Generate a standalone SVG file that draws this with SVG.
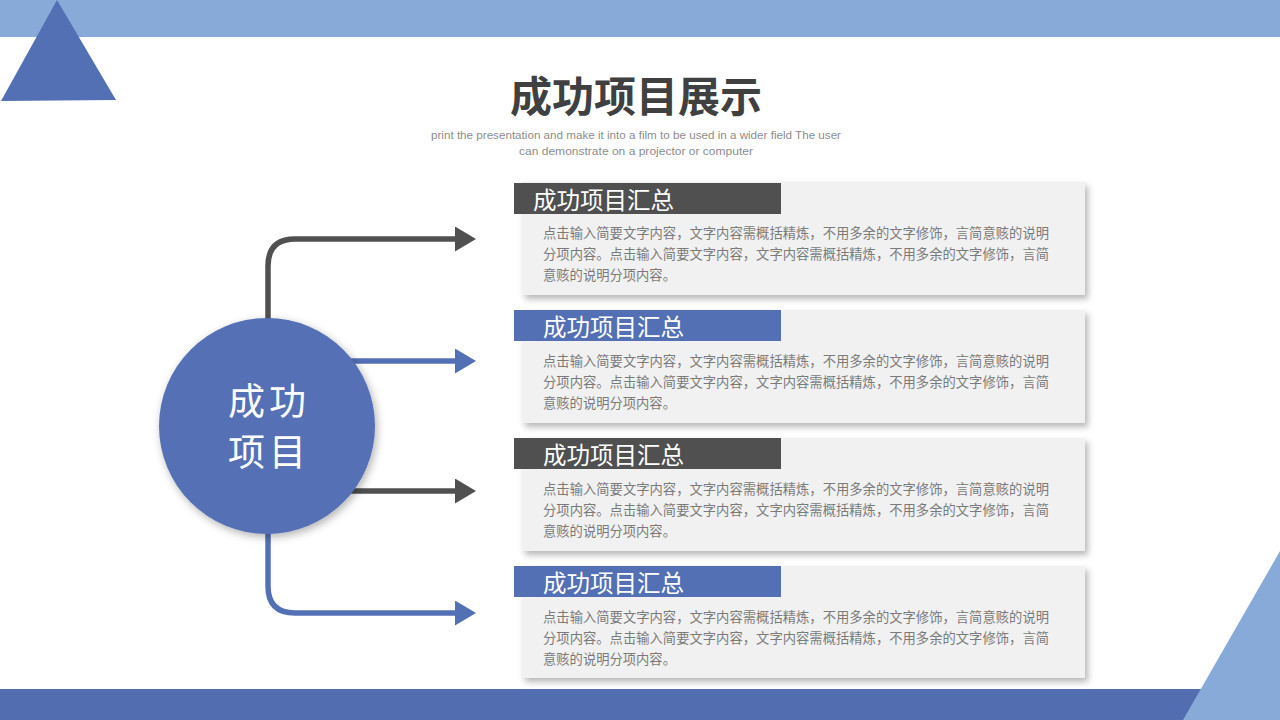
<svg xmlns="http://www.w3.org/2000/svg" width="1280" height="720" viewBox="0 0 1280 720">
  <defs>
    <filter id="sh" x="-10%" y="-20%" width="125%" height="150%">
      <feDropShadow dx="3" dy="4" stdDeviation="3" flood-color="#000" flood-opacity="0.28"/>
    </filter>
    <filter id="csh" x="-20%" y="-20%" width="140%" height="140%">
      <feDropShadow dx="2" dy="3" stdDeviation="4" flood-color="#000" flood-opacity="0.3"/>
    </filter>
    <marker id="ad" markerWidth="21" markerHeight="25" refX="2" refY="12.5" orient="auto" markerUnits="userSpaceOnUse" viewBox="0 0 21 25">
      <path d="M0,0 L21,12.5 L0,25 Z" fill="#505050"/>
    </marker>
    <marker id="ab" markerWidth="21" markerHeight="25" refX="2" refY="12.5" orient="auto" markerUnits="userSpaceOnUse" viewBox="0 0 21 25">
      <path d="M0,0 L21,12.5 L0,25 Z" fill="#5470B5"/>
    </marker>
    <style>
      .cjk{font-family:"Noto Sans CJK SC","Noto Sans",sans-serif}
      .card{fill:#F1F1F1}
      .hd{fill:#fff;font-size:23.5px}
      .body{fill:#7a7a7a;font-size:13.3px}
      .dark{stroke:#505050}
      .blue{stroke:#5470B5}
      .ln{fill:none;stroke-width:5.5}
      .sub{font-family:"Liberation Sans",sans-serif;font-size:10.5px;fill:#8c8c8c}
    </style>
  </defs>

  <!-- background decorations -->
  <rect x="0" y="0" width="1280" height="37" fill="#88AAD8"/>
  <polygon points="57,0 116,100 1,101" fill="#5470B5"/>
  <rect x="0" y="689" width="1210" height="31" fill="#526DB0"/>
  <polygon points="1280,551 1280,720 1183,720" fill="#88AAD8"/>

  <!-- title -->
  <g id="title">
    <text x="636" y="112" text-anchor="middle" class="cjk" font-size="42" font-weight="bold" fill="#404040">成功项目展示</text>
    <text x="431" y="139" class="sub" textLength="410" lengthAdjust="spacingAndGlyphs">print the presentation and make it into a film to be used in a wider field The user</text>
    <text x="519" y="155" class="sub" textLength="234" lengthAdjust="spacingAndGlyphs">can demonstrate on a projector or computer</text>
  </g>

  <!-- connectors -->
  <g id="connectors">
    <path class="ln dark" d="M268,322 V266 Q268,239 295,239 H457" marker-end="url(#ad)"/>
    <path class="ln blue" d="M350,361 H457" marker-end="url(#ab)"/>
    <path class="ln dark" d="M350,491 H457" marker-end="url(#ad)"/>
    <path class="ln blue" d="M268,530 V586 Q268,613 295,613 H457" marker-end="url(#ab)"/>
  </g>

  <!-- central node -->
  <g id="center">
    <circle cx="267" cy="426" r="108" fill="#5470B5" filter="url(#csh)"/>
    <text x="269" y="415" text-anchor="middle" class="cjk" font-size="37" letter-spacing="4" fill="#fff">成功</text>
    <text x="269" y="466" text-anchor="middle" class="cjk" font-size="37" letter-spacing="4" fill="#fff">项目</text>
  </g>

  <!-- cards -->
  <g id="card1">
    <rect class="card" x="522" y="182" width="563" height="113" filter="url(#sh)"/>
    <rect x="514" y="183" width="267" height="31" fill="#505050"/>
    <text x="533" y="209" class="cjk hd">成功项目汇总</text>
    <text x="543" y="238" class="cjk body" textLength="506">点击输入简要文字内容，文字内容需概括精炼，不用多余的文字修饰，言简意赅的说明</text>
    <text x="543" y="259" class="cjk body" textLength="506">分项内容。点击输入简要文字内容，文字内容需概括精炼，不用多余的文字修饰，言简</text>
    <text x="543" y="280" class="cjk body">意赅的说明分项内容。</text>
  </g>
  <g id="card2">
    <rect class="card" x="522" y="310" width="563" height="113" filter="url(#sh)"/>
    <rect x="514" y="310" width="267" height="31" fill="#5470B5"/>
    <text x="543" y="336" class="cjk hd">成功项目汇总</text>
    <text x="543" y="366" class="cjk body" textLength="506">点击输入简要文字内容，文字内容需概括精炼，不用多余的文字修饰，言简意赅的说明</text>
    <text x="543" y="387" class="cjk body" textLength="506">分项内容。点击输入简要文字内容，文字内容需概括精炼，不用多余的文字修饰，言简</text>
    <text x="543" y="408" class="cjk body">意赅的说明分项内容。</text>
  </g>
  <g id="card3">
    <rect class="card" x="522" y="438" width="563" height="113" filter="url(#sh)"/>
    <rect x="514" y="438" width="267" height="31" fill="#505050"/>
    <text x="543" y="464" class="cjk hd">成功项目汇总</text>
    <text x="543" y="494" class="cjk body" textLength="506">点击输入简要文字内容，文字内容需概括精炼，不用多余的文字修饰，言简意赅的说明</text>
    <text x="543" y="515" class="cjk body" textLength="506">分项内容。点击输入简要文字内容，文字内容需概括精炼，不用多余的文字修饰，言简</text>
    <text x="543" y="536" class="cjk body">意赅的说明分项内容。</text>
  </g>
  <g id="card4">
    <rect class="card" x="522" y="566" width="563" height="112" filter="url(#sh)"/>
    <rect x="514" y="566" width="267" height="31" fill="#5470B5"/>
    <text x="543" y="592" class="cjk hd">成功项目汇总</text>
    <text x="543" y="622" class="cjk body" textLength="506">点击输入简要文字内容，文字内容需概括精炼，不用多余的文字修饰，言简意赅的说明</text>
    <text x="543" y="643" class="cjk body" textLength="506">分项内容。点击输入简要文字内容，文字内容需概括精炼，不用多余的文字修饰，言简</text>
    <text x="543" y="664" class="cjk body">意赅的说明分项内容。</text>
  </g>
</svg>
